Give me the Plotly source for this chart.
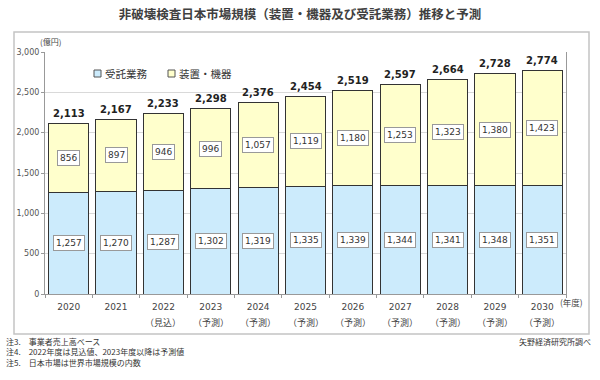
import plotly.graph_objects as go

years = ["2020", "2021", "2022", "2023", "2024", "2025", "2026", "2027", "2028", "2029", "2030"]
sub_labels = ["", "", "（見込）", "（予測）", "（予測）", "（予測）", "（予測）", "（予測）", "（予測）", "（予測）", "（予測）"]
services = [1257, 1270, 1287, 1302, 1319, 1335, 1339, 1344, 1341, 1348, 1351]
equipment = [856, 897, 946, 996, 1057, 1119, 1180, 1253, 1323, 1380, 1423]
totals = [2113, 2167, 2233, 2298, 2376, 2454, 2519, 2597, 2664, 2728, 2774]
series_names = ["受託業務", "装置・機器"]
y_ticks = [0, 500, 1000, 1500, 2000, 2500, 3000]

FONT = "DejaVu Sans, Noto Sans CJK JP"
JP = "Noto Sans CJK JP"
BLUE = "#CCEBFC"
YELLOW = "#FFFFCC"
colors = [BLUE, YELLOW]

# plot area in pixels
L, R, T, B = 45, 566, 52, 294
PW, PH = R - L, B - T


def px(x):
    return (x - L) / PW


def py(y):
    return (B - y) / PH


fig = go.Figure()
for name, vals, col in zip(series_names, [services, equipment], colors):
    fig.add_trace(go.Bar(x=years, y=vals, name=name, showlegend=False,
                         marker=dict(color=col, line=dict(color="#333333", width=1))))

ann = []
shapes = []
box = dict(font=dict(family=FONT, size=9, color="#333"), bgcolor="white",
           bordercolor="#999", borderwidth=1, borderpad=2, showarrow=False)
for i, yr in enumerate(years):
    ann.append(dict(x=i, y=services[i] / 2, text=f"{services[i]:,}", **box))
    ann.append(dict(x=i, y=services[i] + equipment[i] / 2, text=f"{equipment[i]:,}", **box))
    ann.append(dict(x=i, y=totals[i], text=f"<b>{totals[i]:,}</b>", showarrow=False,
                    yshift=10, font=dict(family=FONT, size=10, color="#222")))
    if sub_labels[i]:
        ann.append(dict(x=i, xref="x", y=py(322), yref="paper", text=sub_labels[i],
                        showarrow=False, yanchor="middle",
                        font=dict(family=JP, size=9, color="#444")))

# manual legend
leg_x = [94, 168]
for k, name in enumerate(series_names):
    shapes.append(dict(type="rect", xref="paper", yref="paper",
                       x0=px(leg_x[k]), x1=px(leg_x[k] + 7), y0=py(77), y1=py(70),
                       fillcolor=colors[k], line=dict(color="#555", width=1)))
    ann.append(dict(x=px(leg_x[k] + 9), xref="paper", y=py(73.5), yref="paper", text=name,
                    showarrow=False, xanchor="left", yanchor="middle",
                    font=dict(family=JP, size=10.5, color="#333")))

ann.append(dict(x=px(50), xref="paper", y=py(41), yref="paper", text="(億円)", showarrow=False,
                xanchor="center", yanchor="middle", font=dict(family=JP, size=8, color="#444")))
ann.append(dict(x=px(571), xref="paper", y=py(302), yref="paper", text="(年度)",
                showarrow=False, xanchor="center", yanchor="middle", font=dict(family=JP, size=8.5, color="#444")))
notes = ["注3.　事業者売上高ベース", "注4.　2022年度は見込値、2023年度以降は予測値", "注5.　日本市場は世界市場規模の内数"]
for k, t in enumerate(notes):
    ann.append(dict(x=px(4), xref="paper", y=py(341 + 10.5 * k), yref="paper", text=t,
                    showarrow=False, xanchor="left", yanchor="middle",
                    font=dict(family=JP, size=8, color="#333")))
ann.append(dict(x=px(593), xref="paper", y=py(341), yref="paper", text="矢野経済研究所調べ",
                showarrow=False, xanchor="right", yanchor="middle", font=dict(family=JP, size=8, color="#333")))

shapes.append(dict(type="rect", xref="paper", yref="paper", x0=px(14), x1=px(589),
                   y0=py(334), y1=py(32), line=dict(color="#c4c4c4", width=1.5), layer="above"))

fig.update_layout(
    width=600, height=380,
    margin=dict(l=L, r=600 - R, t=T, b=380 - B),
    paper_bgcolor="white", plot_bgcolor="white",
    barmode="stack", bargap=0.15,
    title=dict(text="<b>非破壊検査日本市場規模（装置・機器及び受託業務）推移と予測</b>",
               x=0.5, xanchor="center", y=1 - 15 / 380, yanchor="middle",
               font=dict(family=JP, size=12.5, color="#404040")),
    font=dict(family=FONT, color="#444"),
    showlegend=False,
    annotations=ann,
    shapes=shapes,
    xaxis=dict(type="category", range=[-0.5, 10.5], tickfont=dict(family=FONT, size=9, color="#444"),
               showline=True, linecolor="#999", ticks="outside", ticklen=3, tickcolor="#999",
               tickson="boundaries", ticklabelstandoff=4, showgrid=False, mirror=False),
    yaxis=dict(range=[0, 3000], tickvals=y_ticks, ticktext=[f"{v:,}" for v in y_ticks],
               tickfont=dict(family=FONT, size=8, color="#555"), showgrid=True, gridcolor="#d9d9d9",
               showline=True, linecolor="#999", ticks="outside", ticklen=3, tickcolor="#999",
               zeroline=False, mirror=True),
)
fig.write_html("out.html", config={"displayModeBar": False},
               post_script="document.body.style.margin='0';")
